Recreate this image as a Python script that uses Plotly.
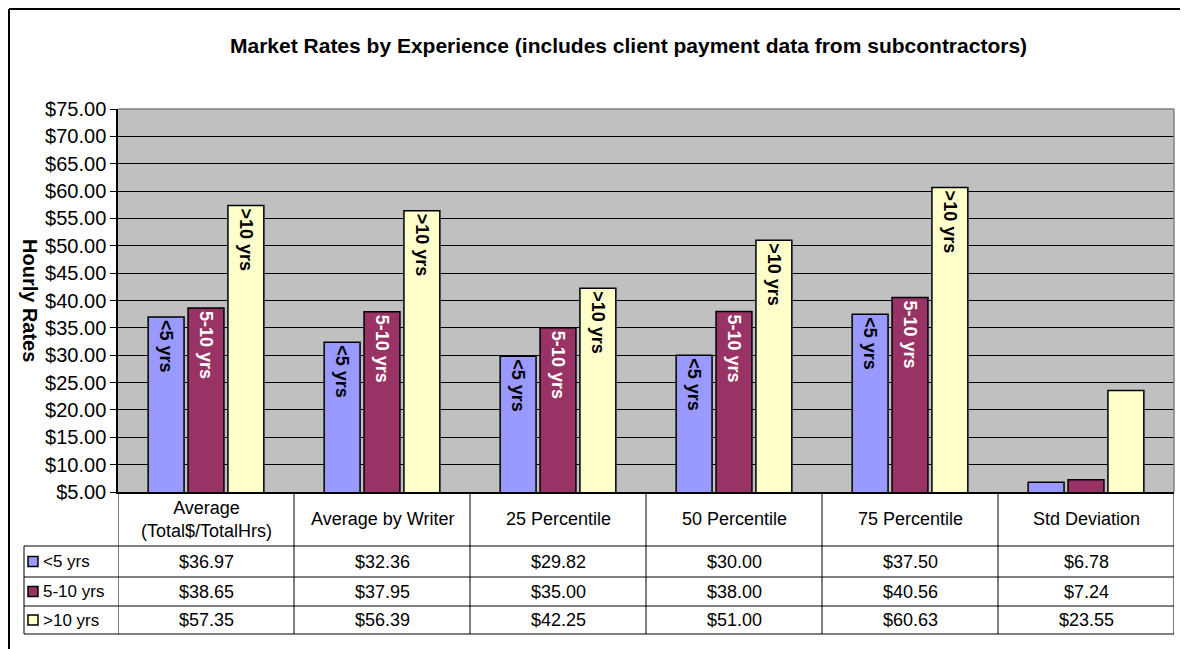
import plotly.graph_objects as go

categories = ["Average<br>(Total$/TotalHrs)", "Average by Writer", "25 Percentile",
              "50 Percentile", "75 Percentile", "Std Deviation"]
series_names = ["<5 yrs", "5-10 yrs", ">10 yrs"]
lt5_values = [36.97, 32.36, 29.82, 30.00, 37.50, 6.78]
mid_values = [38.65, 37.95, 35.00, 38.00, 40.56, 7.24]
gt10_values = [57.35, 56.39, 42.25, 51.00, 60.63, 23.55]
show_bar_label = [True, True, True, True, True, False]
y_ticks = [5, 10, 15, 20, 25, 30, 35, 40, 45, 50, 55, 60, 65, 70, 75]

series_values = [lt5_values, mid_values, gt10_values]
bar_colors = ["#9999FF", "#993366", "#FFFFCC"]
label_colors = ["black", "white", "black"]

FONT = "Liberation Sans, Arial, sans-serif"
OFF = 8  # page body margin
W, H = 1188 - OFF, 649 - OFF
ML, MR, MT, MB = 118 - OFF, 14, 109 - OFF, 157
PW, PH = W - ML - MR, H - MT - MB

def px_x(p):
    return (p - OFF - ML) / PW

def px_y(p):
    return (H - MB - (p - OFF)) / PH

fig = go.Figure()
cat_idx = list(range(len(categories)))
for name, vals, col, lcol in zip(series_names, series_values, bar_colors, label_colors):
    fig.add_trace(go.Bar(
        x=cat_idx, y=vals, name=name,
        marker=dict(color=col, line=dict(color="black", width=1.5)),
        text=[name if s else "" for s in show_bar_label],
        textposition="inside", insidetextanchor="end", textangle=90,
        insidetextfont=dict(family=FONT, size=18, color=lcol, weight="bold"),
        hoverinfo="skip",
    ))

shapes = []
annotations = []

# plot frame top & right (gray)
shapes.append(dict(type="line", xref="paper", yref="paper", x0=0, x1=1, y0=1, y1=1,
                   line=dict(color="#808080", width=1.5)))
shapes.append(dict(type="line", xref="paper", yref="paper", x0=1, x1=1, y0=0, y1=1,
                   line=dict(color="#808080", width=1.5)))

# outer chart frame (as close to the page corner as the figure allows)
FR = 9
shapes.append(dict(type="line", xref="paper", yref="paper", x0=px_x(FR), x1=px_x(1200),
                   y0=px_y(FR), y1=px_y(FR), line=dict(color="black", width=2)))
shapes.append(dict(type="line", xref="paper", yref="paper", x0=px_x(FR), x1=px_x(FR),
                   y0=px_y(FR), y1=px_y(660), line=dict(color="black", width=2)))

# data table
row_lines = [546, 577, 606, 634]
for rl in row_lines:
    shapes.append(dict(type="line", xref="paper", yref="paper", x0=px_x(24), x1=1,
                       y0=px_y(rl), y1=px_y(rl), line=dict(color="black", width=1)))
shapes.append(dict(type="line", xref="paper", yref="paper", x0=px_x(24), x1=px_x(24),
                   y0=px_y(546), y1=px_y(634), line=dict(color="black", width=1)))
for k in range(len(categories) + 1):
    shapes.append(dict(type="line", xref="x", yref="paper", x0=k - 0.5, x1=k - 0.5,
                       y0=0, y1=px_y(634), line=dict(color="black", width=1)))

header_y = px_y(519)
for i, cat in enumerate(categories):
    annotations.append(dict(x=i, y=header_y, xref="x", yref="paper", text=cat,
                            showarrow=False, xanchor="center", yanchor="middle",
                            font=dict(family=FONT, size=18, color="black")))

row_centers = [561.5, 591.5, 620]
for r, (name, vals, col) in enumerate(zip(series_names, series_values, bar_colors)):
    yc = px_y(row_centers[r])
    shapes.append(dict(type="rect", xref="paper", yref="paper",
                       x0=px_x(28), x1=px_x(38), y0=yc - 5 / PH, y1=yc + 5 / PH,
                       fillcolor=col, line=dict(color="black", width=1.5)))
    annotations.append(dict(x=px_x(41), y=yc, xref="paper", yref="paper", text=name,
                            showarrow=False, xanchor="left", yanchor="middle",
                            font=dict(family=FONT, size=17, color="black")))
    for i, v in enumerate(vals):
        annotations.append(dict(x=i, y=yc, xref="x", yref="paper", text=f"${v:,.2f}",
                                showarrow=False, xanchor="center", yanchor="middle",
                                font=dict(family=FONT, size=18, color="black")))

# y-axis title
annotations.append(dict(x=px_x(30), y=px_y(300), xref="paper", yref="paper",
                        text="<b>Hourly Rates</b>", textangle=90, showarrow=False,
                        xanchor="center", yanchor="middle",
                        font=dict(family=FONT, size=20, color="black")))

# chart title
annotations.append(dict(x=px_x(628), y=px_y(45), xref="paper", yref="paper",
                        text="<b>Market Rates by Experience (includes client payment data from subcontractors)</b>",
                        showarrow=False, xanchor="center", yanchor="middle",
                        font=dict(family=FONT, size=21, color="black")))

fig.update_layout(
    width=W, height=H,
    margin=dict(l=ML, r=MR, t=MT, b=MB),
    paper_bgcolor="white", plot_bgcolor="#C0C0C0",
    barmode="group", bargap=0.32, bargroupgap=0.1,
    showlegend=False,
    xaxis=dict(range=[-0.5, len(categories) - 0.5], showticklabels=False,
               showgrid=False, zeroline=False, showline=True, linecolor="black",
               linewidth=1.5, ticks="", fixedrange=True),
    yaxis=dict(range=[5, 75], tickvals=y_ticks,
               ticktext=[f"${t:.2f}" for t in y_ticks],
               tickfont=dict(family=FONT, size=20, color="black"),
               showgrid=True, gridcolor="black", gridwidth=1,
               zeroline=False, showline=True, linecolor="black", linewidth=1.5,
               ticks="outside", ticklen=6, tickcolor="black", fixedrange=True),
    shapes=shapes, annotations=annotations,
)

fig.write_html("out.html")
